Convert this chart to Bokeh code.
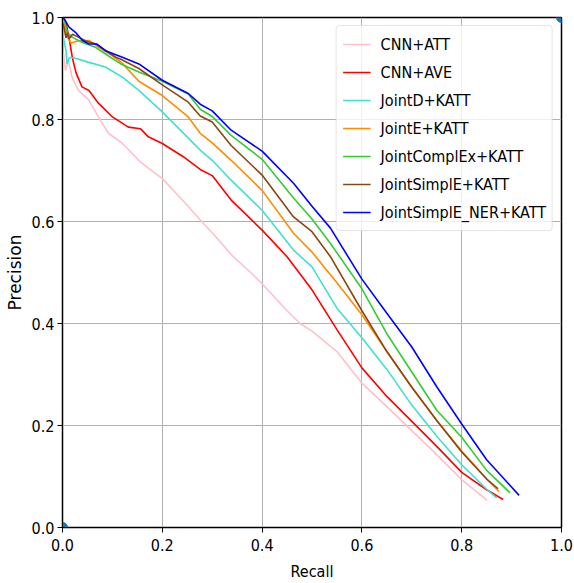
from bokeh.plotting import figure
from bokeh.models import Range1d, FixedTicker, PrintfTickFormatter
from bokeh.embed import file_html
from bokeh.resources import INLINE

# ---- data ----
labels = ["CNN+ATT", "CNN+AVE", "JointD+KATT", "JointE+KATT",
          "JointComplEx+KATT", "JointSimplE+KATT", "JointSimplE_NER+KATT"]
colors = ["pink", "red", "turquoise", "darkorange",
          "limegreen", "saddlebrown", "blue"]

cnn_att_r = [0.0, 0.002, 0.006, 0.012, 0.019, 0.032, 0.053, 0.072, 0.092, 0.12, 0.146, 0.156,
             0.2, 0.25, 0.276, 0.3, 0.342, 0.376, 0.4, 0.45, 0.476, 0.5, 0.55, 0.6, 0.65,
             0.7, 0.75, 0.8, 0.851]
cnn_att_p = [0.82, 0.93, 0.896, 0.915, 0.883, 0.857, 0.838, 0.805, 0.773, 0.753, 0.727, 0.717,
             0.684, 0.632, 0.603, 0.578, 0.531, 0.501, 0.478, 0.425, 0.40, 0.385, 0.345, 0.283, 0.237,
             0.19, 0.143, 0.094, 0.053]

cnn_ave_r = [0.002, 0.007, 0.013, 0.02, 0.027, 0.039, 0.053, 0.072, 0.1, 0.132, 0.156, 0.172,
             0.2, 0.242, 0.276, 0.3, 0.338, 0.4, 0.45, 0.5, 0.55, 0.6, 0.65, 0.7,
             0.75, 0.8, 0.85, 0.883]
cnn_ave_p = [1.0, 0.99, 0.961, 0.92, 0.892, 0.864, 0.857, 0.832, 0.805, 0.785, 0.782, 0.766,
             0.753, 0.727, 0.702, 0.69, 0.642, 0.583, 0.531, 0.466, 0.388, 0.313, 0.257, 0.208,
             0.159, 0.108, 0.074, 0.055]

jointd_r = [0.0, 0.007, 0.009, 0.013, 0.016, 0.026, 0.053, 0.086, 0.12, 0.153, 0.2, 0.276,
            0.3, 0.338, 0.4, 0.463, 0.5, 0.55, 0.6, 0.65, 0.7, 0.75, 0.8, 0.85, 0.87]
jointd_p = [0.97, 0.935, 0.909, 0.92, 0.922, 0.92, 0.912, 0.903, 0.883, 0.857, 0.815, 0.74,
            0.72, 0.681, 0.622, 0.544, 0.511, 0.43, 0.372, 0.31, 0.24, 0.179, 0.123, 0.075, 0.058]

jointe_r = [0.0, 0.003, 0.01, 0.017, 0.03, 0.053, 0.072, 0.1, 0.12, 0.153, 0.2, 0.252,
            0.276, 0.3, 0.338, 0.4, 0.463, 0.5, 0.55, 0.6, 0.65, 0.7, 0.75, 0.8, 0.85, 0.875]
jointe_p = [0.97, 0.99, 0.961, 0.95, 0.954, 0.955, 0.942, 0.925, 0.91, 0.875, 0.847, 0.805,
            0.773, 0.754, 0.72, 0.661, 0.577, 0.54, 0.48, 0.417, 0.345, 0.275, 0.21, 0.15, 0.095, 0.07]

jointcx_r = [0.0, 0.005, 0.01, 0.02, 0.04, 0.067, 0.087, 0.107, 0.117, 0.153, 0.2, 0.252,
             0.276, 0.3, 0.338, 0.4, 0.463, 0.5, 0.537, 0.6, 0.65, 0.7, 0.75, 0.8, 0.85, 0.897]
jointcx_p = [1.0, 0.99, 0.97, 0.961, 0.951, 0.941, 0.928, 0.915, 0.909, 0.893, 0.875, 0.85,
             0.82, 0.806, 0.769, 0.722, 0.646, 0.605, 0.557, 0.468, 0.38, 0.305, 0.23, 0.177, 0.112, 0.068]

jointse_r = [0.0, 0.003, 0.007, 0.01, 0.013, 0.02, 0.033, 0.047, 0.067, 0.087, 0.107, 0.117,
             0.153, 0.2, 0.252, 0.276, 0.3, 0.338, 0.4, 0.463, 0.5, 0.537, 0.6, 0.65, 0.7,
             0.75, 0.8, 0.85, 0.873]
jointse_p = [0.99, 0.98, 0.96, 0.97, 0.958, 0.967, 0.961, 0.954, 0.948, 0.935, 0.922, 0.918,
             0.9, 0.868, 0.834, 0.807, 0.795, 0.749, 0.691, 0.609, 0.58, 0.531, 0.425, 0.345, 0.275,
             0.21, 0.148, 0.095, 0.076]

jointner_r = [0.0, 0.005, 0.013, 0.026, 0.04, 0.053, 0.069, 0.086, 0.12, 0.153, 0.2, 0.252,
              0.276, 0.3, 0.338, 0.4, 0.463, 0.5, 0.537, 0.6, 0.65, 0.7, 0.75, 0.8, 0.85, 0.915]
jointner_p = [1.0, 0.995, 0.981, 0.971, 0.955, 0.948, 0.948, 0.935, 0.922, 0.909, 0.877, 0.851,
              0.83, 0.817, 0.779, 0.738, 0.675, 0.63, 0.587, 0.487, 0.42, 0.354, 0.276, 0.203, 0.133, 0.063]

series_r = [cnn_att_r, cnn_ave_r, jointd_r, jointe_r, jointcx_r, jointse_r, jointner_r]
series_p = [cnn_att_p, cnn_ave_p, jointd_p, jointe_p, jointcx_p, jointse_p, jointner_p]

corner_x = [0.0, 1.0]
corner_y = [0.0, 1.0]

ticks = [0.0, 0.2, 0.4, 0.6, 0.8, 1.0]

NARROW = "DejaVu Sans Condensed"

p = figure(width=574, height=583, x_range=Range1d(0, 1), y_range=Range1d(0, 1),
           output_backend="svg", toolbar_location=None,
           min_border_left=62, min_border_right=13, min_border_top=17, min_border_bottom=55)

p.background_fill_color = "white"
p.border_fill_color = "white"
p.outline_line_color = "black"
p.outline_line_width = 1.5

p.grid.grid_line_color = "#b0b0b0"
p.grid.grid_line_width = 1
p.xgrid.ticker = FixedTicker(ticks=ticks)
p.ygrid.ticker = FixedTicker(ticks=ticks)

for ax in (p.xaxis, p.yaxis):
    ax.ticker = FixedTicker(ticks=ticks)
    ax.formatter = PrintfTickFormatter(format="%.1f")
    ax.minor_tick_line_color = None
    ax.major_tick_out = 5
    ax.major_tick_in = 0
    ax.major_tick_line_color = "black"
    ax.axis_line_color = "black"
    ax.major_label_text_font = NARROW
    ax.major_label_text_font_size = "16px"
    ax.major_label_text_color = "black"
    ax.axis_label_text_font_style = "normal"
    ax.axis_label_text_color = "black"

p.xaxis.major_label_standoff = 6
p.yaxis.major_label_standoff = 3
p.xaxis.axis_label = "Recall"
p.xaxis.axis_label_text_font = NARROW
p.xaxis.axis_label_text_font_size = "16px"
p.xaxis.axis_label_standoff = 8
p.yaxis.axis_label = "Precision"
p.yaxis.axis_label_text_font = "DejaVu Sans"
p.yaxis.axis_label_text_font_size = "17px"
p.yaxis.axis_label_standoff = 4

for r, pr, lab, col in zip(series_r, series_p, labels, colors):
    p.line(r, pr, line_color=col, line_width=1.6, legend_label=lab)

p.scatter(corner_x, corner_y, size=10, color="#1f77b4")

lg = p.legend[0]
lg.location = "top_right"
lg.margin = 8
lg.padding = 6
lg.spacing = 4
lg.glyph_width = 28
lg.glyph_height = 24
lg.label_height = 24
lg.label_standoff = 10
lg.label_text_font = NARROW
lg.label_text_font_size = "16px"
lg.label_text_color = "black"
lg.border_line_color = "#cccccc"
lg.border_line_width = 1
lg.background_fill_alpha = 0.8
try:
    lg.border_radius = 4
except Exception:
    pass

open("out.html", "w").write(file_html(p, INLINE))
